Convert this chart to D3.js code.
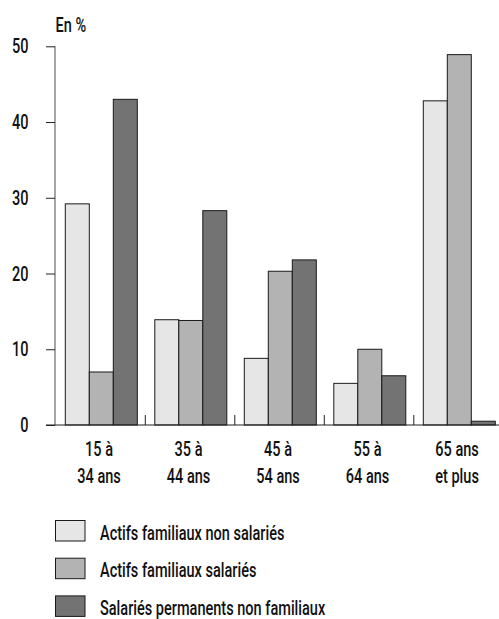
<!DOCTYPE html>
<html><head><meta charset="utf-8">
<script src="https://cdn.jsdelivr.net/npm/d3@7"></script>
<style>
body{margin:0;background:#fff;}
text{font-family:Roboto,"Liberation Sans",sans-serif;font-weight:500;fill:#111;}
</style></head>
<body>
<svg id="c" width="499" height="619"></svg>
<script>
const categories = [["15 à","34 ans"],["35 à","44 ans"],["45 à","54 ans"],["55 à","64 ans"],["65 ans","et plus"]];
const seriesNames = ["Actifs familiaux non salariés","Actifs familiaux salariés","Salariés permanents non familiaux"];
const actifsNonSalaries = [29.2, 13.9, 8.8, 5.5, 42.8];
const actifsSalaries = [7.0, 13.8, 20.3, 10.0, 48.9];
const salariesPermanents = [43.0, 28.3, 21.8, 6.5, 0.5];
const yTicks = [0,10,20,30,40,50];
const colors = ["#e6e6e6","#b3b3b3","#737373"];
const seriesValues = [actifsNonSalaries, actifsSalaries, salariesPermanents];

const SX = 0.745;
const svg = d3.select("#c");
function label(x, y, str, size, anchor){
  const g = svg.append("g").attr("transform", `translate(${x},${y}) scale(${SX},1)`);
  return g.append("text").attr("font-size", size).attr("text-anchor", anchor||"start").text(str);
}

const y = d3.scaleLinear().domain([0,50]).range([425,46.3]);
const x0 = d3.scaleBand().domain(d3.range(categories.length)).range([55.8,503.3]).paddingInner(0);
const x1 = d3.scaleBand().domain(d3.range(3)).range([9.5,81.5]);

// bars
const g = svg.append("g");
categories.forEach((c,i)=>{
  seriesValues.forEach((vals,s)=>{
    g.append("rect")
      .attr("x", x0(i)+x1(s))
      .attr("y", y(vals[i]))
      .attr("width", x1.bandwidth())
      .attr("height", y(0)-y(vals[i]))
      .attr("fill", colors[s])
      .attr("stroke","#1a1a1a").attr("stroke-width",1);
  });
});

// y axis
const ya = svg.append("g").attr("transform","translate(55,0)")
  .call(d3.axisLeft(y).tickValues(yTicks).tickSize(9).tickFormat(""));
ya.select(".domain").attr("stroke","#6a6a6a").attr("stroke-width",1.2).attr("d","M0,"+y(50)+"V"+y(0));
ya.selectAll(".tick line").attr("stroke","#222");
yTicks.forEach(t=>{
  label(28.5, y(t)+7, d3.format("d")(t), 19.5, "end");
});

// x axis baseline
svg.append("line").attr("x1",46).attr("x2",499).attr("y1",y(0)).attr("y2",y(0)).attr("stroke","#222").attr("stroke-width",1.2);
// group separators
for(let i=1;i<categories.length;i++){
  svg.append("line").attr("x1",x0(i)).attr("x2",x0(i)).attr("y1",y(0)).attr("y2",y(0)-10).attr("stroke","#222").attr("stroke-width",1);
}
// x labels
categories.forEach((c,i)=>{
  const cx = x0(i)+x0.bandwidth()/2 - 1.5;
  label(cx, 455.7, c[0], 19.5, "middle");
  label(cx, 483.3, c[1], 19.5, "middle");
});

// unit
label(55.5, 32, "En %", 19.5, "start");

// legend
seriesNames.forEach((n,s)=>{
  const yy = 520.5 + s*37.7;
  svg.append("rect").attr("x",55.5).attr("y",yy).attr("width",29.5).attr("height",20.5)
    .attr("fill",colors[s]).attr("stroke","#1a1a1a").attr("stroke-width",1);
  label(100, yy+19, n, 19.5, "start");
});
</script>
</body></html>
